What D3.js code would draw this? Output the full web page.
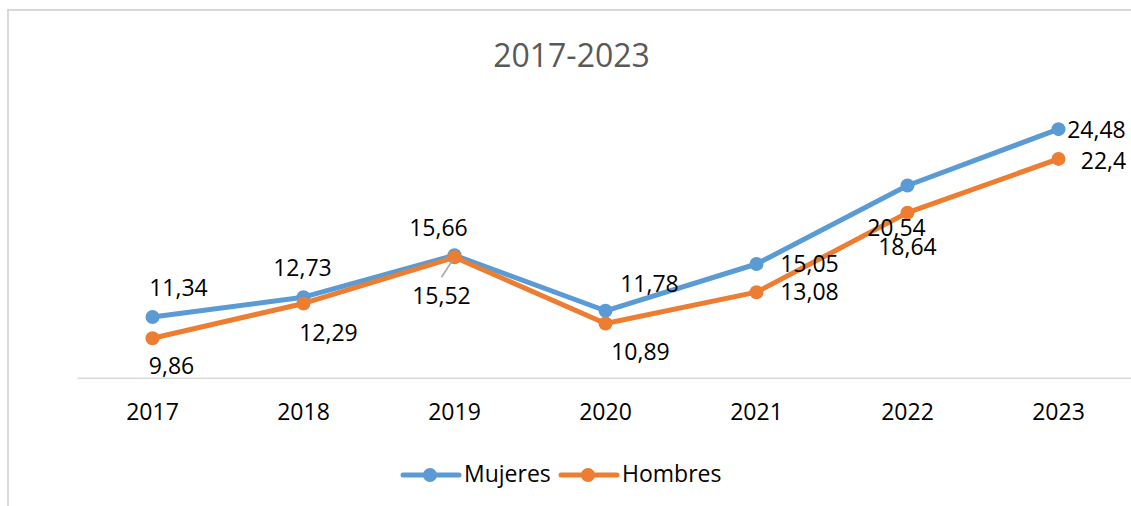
<!DOCTYPE html>
<html>
<head>
<meta charset="utf-8">
<script src="https://cdn.jsdelivr.net/npm/d3@7"></script>
<style>
  html, body { margin: 0; padding: 0; background: #fff; }
  svg { display: block; }
  text { font-family: "Open Sans", "Liberation Sans", sans-serif; }
</style>
</head>
<body>
<svg id="chart" width="1131" height="506"></svg>
<script>
// ---- data ----
const title = "2017-2023";
const years = ["2017", "2018", "2019", "2020", "2021", "2022", "2023"];
const mujeres = [11.34, 12.73, 15.66, 11.78, 15.05, 20.54, 24.48];
const hombres = [9.86, 12.29, 15.52, 10.89, 13.08, 18.64, 22.4];
const seriesNames = ["Mujeres", "Hombres"];

// ---- layout (label offsets relative to each point) ----
const mujLabelOff = [[26, -21], [-1, -21], [-16, -19], [44, -19], [53, 8], [-11, 51], [38, 9]];
const homLabelOff = [[19, 36], [25, 38], [-13, 47], [35, 37], [53, 8], [0, 42], [45, 10]];

const colors = { Mujeres: "#5B9BD5", Hombres: "#ED7D31" };
const fmt = v => String(v).replace(".", ",");

const svg = d3.select("#chart");
svg.append("rect").attr("width", 1131).attr("height", 506).attr("fill", "#fff");
// chart border
svg.append("rect").attr("x", 8).attr("y", 10).attr("width", 1140).attr("height", 520)
  .attr("fill", "none").attr("stroke", "#d9d9d9").attr("stroke-width", 2);

// title
svg.append("text").attr("x", 571.5).attr("y", 66.5).attr("text-anchor", "middle")
  .attr("font-size", 32).attr("fill", "#595959").text(title);

const x = d3.scaleBand().domain(years).range([77, 1134]);
const y = d3.scaleLinear().domain([7.1, 26]).range([377.7, 107.4]);

// x axis
const xAxis = svg.append("g").attr("transform", "translate(0,377.7)")
  .call(d3.axisBottom(x).tickSize(0).tickPadding(26).tickSizeOuter(0));
xAxis.select(".domain").attr("stroke", "#d9d9d9").attr("stroke-width", 1.5);
xAxis.selectAll("text").attr("font-size", 23).attr("fill", "#000")
  .style("font-family", "'Open Sans', sans-serif");

const cx = d => x(d) + x.bandwidth() / 2;
const line = d3.line().x((d, i) => cx(years[i])).y(d => y(d));

function drawSeries(values, name) {
  const g = svg.append("g");
  g.append("path").datum(values).attr("d", line).attr("fill", "none")
    .attr("stroke", colors[name]).attr("stroke-width", 5).attr("stroke-linejoin", "round");
  g.selectAll("circle").data(values).join("circle")
    .attr("cx", (d, i) => cx(years[i])).attr("cy", d => y(d)).attr("r", 7)
    .attr("fill", colors[name]);
}
drawSeries(mujeres, "Mujeres");
drawSeries(hombres, "Hombres");

// leader line for 2019 Hombres label
svg.append("line")
  .attr("x1", cx("2019") - 13).attr("y1", y(hombres[2]) + 20)
  .attr("x2", cx("2019") - 2).attr("y2", y(hombres[2]) + 3)
  .attr("stroke", "#a6a6a6").attr("stroke-width", 1.5);

function drawLabels(values, offs) {
  svg.append("g").selectAll("text").data(values).join("text")
    .attr("x", (d, i) => cx(years[i]) + offs[i][0])
    .attr("y", (d, i) => y(d) + offs[i][1])
    .attr("text-anchor", "middle").attr("font-size", 23).attr("fill", "#000")
    .text(d => fmt(d));
}
drawLabels(mujeres, mujLabelOff);
drawLabels(hombres, homLabelOff);

// legend
const legend = svg.append("g");
const legItems = [{ name: seriesNames[0], x0: 403 }, { name: seriesNames[1], x0: 561 }];
legItems.forEach(it => {
  legend.append("line").attr("x1", it.x0).attr("x2", it.x0 + 56).attr("y1", 475).attr("y2", 475)
    .attr("stroke", colors[it.name]).attr("stroke-width", 5).attr("stroke-linecap", "round");
  legend.append("circle").attr("cx", it.x0 + 27).attr("cy", 475).attr("r", 7).attr("fill", colors[it.name]);
  legend.append("text").attr("x", it.x0 + 61).attr("y", 482).attr("font-size", 23).attr("fill", "#000").text(it.name);
});
</script>
</body>
</html>
